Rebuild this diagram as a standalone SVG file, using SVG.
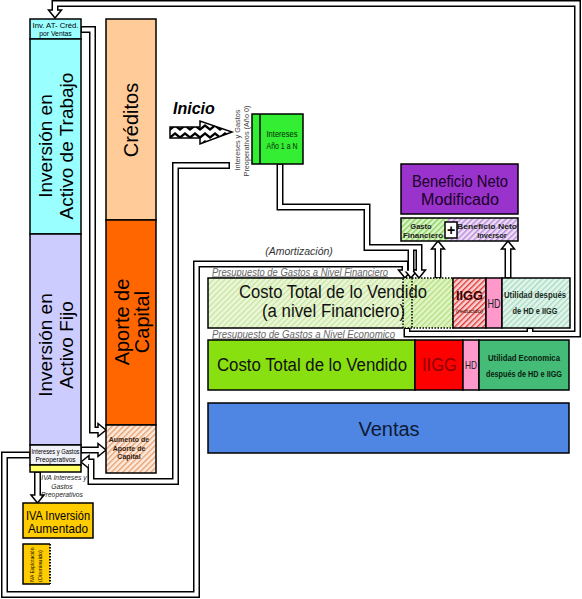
<svg xmlns="http://www.w3.org/2000/svg" xmlns:xlink="http://www.w3.org/1999/xlink" width="582" height="599" viewBox="0 0 582 599">
<style>
text{font-family:"Liberation Sans",Arial,sans-serif;fill:#000}
.b{font-weight:bold}
.i{font-style:italic}
.m{text-anchor:middle}
.bx{stroke:#000;stroke-width:1.5}
.cb path{fill:none;stroke:#000;stroke-width:7;stroke-linejoin:miter}
.cw path{fill:none;stroke:#fff;stroke-width:4;stroke-linejoin:miter}
.ah{fill:#fff;stroke:#000;stroke-width:1.5;stroke-linejoin:miter}
.dot{fill:none;stroke:#000;stroke-width:1.5;stroke-dasharray:1.5 1.5}
.pre{font-style:italic;fill:#666;text-decoration:underline;font-size:10.5px}
</style>
<defs>
<pattern id="hG" width="4" height="4" patternUnits="userSpaceOnUse" patternTransform="rotate(45)"><rect width="4" height="4" fill="#ECF7D8"/><rect width="1.3" height="4" fill="#C4E5A0"/></pattern>
<pattern id="hG2" width="4" height="4" patternUnits="userSpaceOnUse" patternTransform="rotate(45)"><rect width="4" height="4" fill="#E2F5C4"/><rect width="1.4" height="4" fill="#B4DE84"/></pattern>
<pattern id="hGF" width="4" height="4" patternUnits="userSpaceOnUse" patternTransform="rotate(45)"><rect width="4" height="4" fill="#DDF6C8"/><rect width="1.4" height="4" fill="#86D05E"/></pattern>
<pattern id="hR" width="4" height="4" patternUnits="userSpaceOnUse" patternTransform="rotate(45)"><rect width="4" height="4" fill="#F8D2D2"/><rect width="1.4" height="4" fill="#E03A3A"/></pattern>
<pattern id="hT" width="4" height="4" patternUnits="userSpaceOnUse" patternTransform="rotate(45)"><rect width="4" height="4" fill="#E2F5EC"/><rect width="1.3" height="4" fill="#A6DAC0"/></pattern>
<pattern id="hP" width="4" height="4" patternUnits="userSpaceOnUse" patternTransform="rotate(45)"><rect width="4" height="4" fill="#EEDDF6"/><rect width="1.4" height="4" fill="#B58AD8"/></pattern>
<pattern id="hO" width="4" height="4" patternUnits="userSpaceOnUse" patternTransform="rotate(45)"><rect width="4" height="4" fill="#FCEBDD"/><rect width="1.4" height="4" fill="#E8A070"/></pattern>
<pattern id="zig" width="10" height="8" patternUnits="userSpaceOnUse" x="170" y="124"><rect width="10" height="8" fill="#fff"/><path d="M0,4 L5,0 L10,4 L10,7 L5,3 L0,7 Z" fill="#000"/></pattern>
<path id="ah" d="M-6.5,0 L6.5,0 L0,8 Z"/>
</defs>

<g id="connectors">
 <g class="cb">
  <path d="M407,328 V334 H577.5 V3.5 H55 V10"/>
  <path d="M530,328 V334"/>
  <path d="M81,29.5 H92.5 V430 H98"/>
  <path d="M81,450 H98"/>
  <path d="M230,165.5 H175.5 V481.5 H91 V462 H89"/>
  <path d="M30,455 H4.5 V594.5 H196.5 V264 H405 V270"/>
  <path d="M280,164 V207 H367 V247.5 H419 V270"/>
  <path d="M411,247.5 V270"/>
  <path d="M438,278 V249"/>
  <path d="M508,278 V249"/>
  <path d="M37.5,472 V495"/>
 </g>
 <g id="heads">
  <use href="#ah" class="ah" transform="translate(55,10)"/>
  <use href="#ah" class="ah" transform="translate(98,430) rotate(-90)"/>
  <use href="#ah" class="ah" transform="translate(98,450) rotate(-90)"/>
  <use href="#ah" class="ah" transform="translate(89,462) rotate(90)"/>
  <use href="#ah" class="ah" transform="translate(405,270)"/>
  <use href="#ah" class="ah" transform="translate(411,270)"/>
  <use href="#ah" class="ah" transform="translate(419,270)"/>
  <use href="#ah" class="ah" transform="translate(438,249) rotate(180)"/>
  <use href="#ah" class="ah" transform="translate(508,249) rotate(180)"/>
  <use href="#ah" class="ah" transform="translate(37.5,495)"/>
 </g>
 <g class="cw">
  <path d="M407,329 V334 H577.5 V3.5 H55 V11.5"/>
  <path d="M530,329 V334"/>
  <path d="M81.8,29.5 H92.5 V430 H99.5"/>
  <path d="M81.8,450 H99.5"/>
  <path d="M228.5,165.5 H175.5 V481.5 H91 V462 H87.5"/>
  <path d="M29.2,455 H4.5 V594.5 H196.5 V264 H405 V271.5"/>
  <path d="M280,164.8 V207 H367 V247.5 H419 V271.5"/>
  <path d="M411,247.5 V271.5"/>
  <path d="M438,277.2 V247.5"/>
  <path d="M508,277.2 V247.5"/>
  <path d="M37.5,472.8 V496.5"/>
 </g>
 <text class="i m" x="299" y="255" font-size="10.5" style="fill:#333">(Amortización)</text>
 <text class="i m" x="64" y="480" font-size="6.8" style="fill:#222">IVA Intereses y</text>
 <text class="i m" x="62" y="488.5" font-size="6.8" style="fill:#222">Gastos</text>
 <text class="i m" x="62" y="497" font-size="6.8" style="fill:#222">Preoperativos</text>
</g>

<g id="inv-at-cred">
 <rect class="bx" x="30" y="19" width="51" height="20" fill="#99FFFF"/>
 <text class="m" x="55.5" y="27.5" font-size="6.8" textLength="46" lengthAdjust="spacingAndGlyphs">Inv. AT- Créd.</text>
 <text class="m" x="55.5" y="35.5" font-size="6.8">por Ventas</text>
</g>
<g id="activo-trabajo">
 <rect class="bx" x="30" y="39" width="51" height="195" fill="#99FFFF"/>
 <text class="m" transform="translate(52,146) rotate(-90)" font-size="19">Inversión en</text>
 <text class="m" transform="translate(72.5,146) rotate(-90)" font-size="19">Activo de Trabajo</text>
</g>
<g id="activo-fijo">
 <rect class="bx" x="30" y="234" width="51" height="211" fill="#CCCCFF"/>
 <text class="m" transform="translate(52,345) rotate(-90)" font-size="19">Inversión en</text>
 <text class="m" transform="translate(72.5,345) rotate(-90)" font-size="19">Activo Fijo</text>
</g>
<g id="preoperativos">
 <rect class="bx" x="30" y="445" width="51" height="20" fill="#F1F1F8"/>
 <rect class="bx" x="30" y="465" width="51" height="7" fill="#FFFF66"/>
 <text class="m" x="55.5" y="453.5" font-size="6.5" textLength="48" lengthAdjust="spacingAndGlyphs">Intereses y Gastos</text>
 <text class="m" x="55.5" y="462" font-size="6.5">Preoperativos</text>
</g>
<g id="creditos">
 <rect class="bx" x="106" y="19" width="50" height="201" fill="#FFCC99"/>
 <text class="m" transform="translate(138,120) rotate(-90)" font-size="20">Créditos</text>
</g>
<g id="aporte-capital">
 <rect class="bx" x="106" y="220" width="50" height="205" fill="#FF6600"/>
 <text class="m" transform="translate(129,322) rotate(-90)" font-size="20">Aporte de</text>
 <text class="m" transform="translate(149,322) rotate(-90)" font-size="20">Capital</text>
</g>
<g id="aumento-aporte">
 <rect class="bx" x="106" y="425" width="50" height="48" fill="url(#hO)"/>
 <text class="b m" x="129" y="442" font-size="7" style="fill:#332211">Aumento de</text>
 <text class="b m" x="129" y="450.5" font-size="7" style="fill:#332211">Aporte de</text>
 <text class="b m" x="129" y="459" font-size="7" style="fill:#332211">Capital</text>
</g>
<g id="iva-inversion">
 <rect class="bx" x="23" y="503" width="70" height="35" fill="#FFCC00"/>
 <text class="m" x="58" y="519.5" font-size="13" textLength="64" lengthAdjust="spacingAndGlyphs">IVA Inversión</text>
 <text class="m" x="58" y="533" font-size="13" textLength="60" lengthAdjust="spacingAndGlyphs">Aumentado</text>
</g>
<g id="iva-explotacion">
 <rect x="23" y="544" width="27" height="40" fill="#FFCC00"/>
 <path d="M50,544 H23 V584 H50" fill="none" stroke="#000" stroke-width="1.5"/>
 <path class="dot" d="M50,544 V584" style="stroke-width:2"/>
 <text class="m" transform="translate(33.5,565) rotate(-90)" font-size="6" textLength="35" lengthAdjust="spacingAndGlyphs">IVA Explotación</text>
 <text class="m" transform="translate(41.5,566) rotate(-90)" font-size="6" textLength="32" lengthAdjust="spacingAndGlyphs">(Disminuido)</text>
</g>
<g id="inicio">
 <text class="b i" x="173" y="114" font-size="16">Inicio</text>
 <path d="M170,127 H200 V121 L232,132 L200,144 V138 H170 Z" fill="url(#zig)" stroke="#000" stroke-width="1.5"/>
 <text class="m" transform="translate(240,140) rotate(-90)" font-size="7.3" style="fill:#444">Intereses y Gastos</text>
 <text class="m" transform="translate(249,141) rotate(-90)" font-size="7.3" style="fill:#444">Preoperativos (Año 0)</text>
</g>
<g id="intereses-anio">
 <rect class="bx" x="252" y="114" width="51" height="50" fill="#33EE33"/>
 <path d="M260,114 V164" stroke="#000" stroke-width="1.5"/>
 <text class="m" x="282" y="137" font-size="9" textLength="31" lengthAdjust="spacingAndGlyphs" style="fill:#0a2a0a">Intereses</text>
 <text class="m" x="282" y="148.5" font-size="9" textLength="31" lengthAdjust="spacingAndGlyphs" style="fill:#0a2a0a">Año 1 a N</text>
</g>
<g id="beneficio-neto-modificado">
 <rect class="bx" x="401" y="164" width="117" height="50" fill="#9933CC"/>
 <text class="m" x="460" y="187" font-size="16" textLength="96" lengthAdjust="spacingAndGlyphs" style="fill:#1a0026">Beneficio Neto</text>
 <text class="m" x="460" y="205" font-size="16" textLength="78" lengthAdjust="spacingAndGlyphs" style="fill:#1a0026">Modificado</text>
</g>
<g id="gasto-beneficio">
 <rect x="401" y="218" width="47" height="23" fill="url(#hGF)"/>
 <rect x="448" y="218" width="70" height="23" fill="url(#hP)"/>
 <rect class="bx" x="401" y="218" width="117" height="23" fill="none"/>
 <text class="b m" x="421" y="229" font-size="7.5" style="fill:#222">Gasto</text>
 <text class="b m" x="423" y="237.5" font-size="7.5" textLength="40" lengthAdjust="spacingAndGlyphs" style="fill:#222">Financiero</text>
 <text class="b m" x="487" y="229" font-size="7.5" textLength="60" lengthAdjust="spacingAndGlyphs" style="fill:#222">Beneficio Neto</text>
 <text class="b m" x="492" y="237.5" font-size="7.5" style="fill:#222">Inversor</text>
 <rect class="bx" x="445" y="222" width="12" height="16" fill="#fff"/>
 <text class="b m" x="451" y="235" font-size="14">+</text>
</g>
<g id="costo-financiero">
 <text class="pre" x="212" y="275.5" textLength="176" lengthAdjust="spacingAndGlyphs">Presupuesto de Gastos a Nivel Financiero</text>
 <rect x="208" y="278" width="245" height="50" fill="url(#hG)"/>
 <rect x="403" y="278" width="50" height="50" fill="url(#hG2)"/>
 <path d="M403,278 H208 V328 H403" fill="none" stroke="#000" stroke-width="1.5"/>
 <rect class="dot" x="403" y="278" width="50" height="50"/>
 <path class="dot" d="M412,278 V328"/>
 <text class="m" x="333" y="298" font-size="18" textLength="188" lengthAdjust="spacingAndGlyphs" style="fill:#111">Costo Total de lo Vendido</text>
 <text class="m" x="333.5" y="317" font-size="18" textLength="143" lengthAdjust="spacingAndGlyphs" style="fill:#111">(a nivel Financiero)</text>
</g>
<g id="iigg-reducido">
 <rect class="bx" x="453" y="278" width="33" height="50" fill="url(#hR)"/>
 <text class="b m" x="469.5" y="300" font-size="12" textLength="27" lengthAdjust="spacingAndGlyphs" style="fill:#3a0000">IIGG</text>
 <text class="m" x="469.5" y="313" font-size="6" textLength="27" lengthAdjust="spacingAndGlyphs" style="fill:#3a0000">(reducido)</text>
</g>
<g id="hd-financiero">
 <rect class="bx" x="486" y="278" width="16" height="50" fill="#FF99CC"/>
 <text class="m" x="494" y="308" font-size="12" textLength="13" lengthAdjust="spacingAndGlyphs" style="fill:#222">HD</text>
</g>
<g id="utilidad-financiera">
 <rect class="bx" x="502" y="278" width="68" height="50" fill="url(#hT)"/>
 <text class="b m" x="535" y="298" font-size="9.5" textLength="62" lengthAdjust="spacingAndGlyphs" style="fill:#1a2a22">Utilidad después</text>
 <text class="b m" x="535" y="314" font-size="9.5" textLength="45" lengthAdjust="spacingAndGlyphs" style="fill:#1a2a22">de HD e IIGG</text>
</g>
<g id="costo-economico">
 <text class="pre" x="212" y="337.5" textLength="183" lengthAdjust="spacingAndGlyphs">Presupuesto de Gastos a Nivel Economico</text>
 <rect class="bx" x="208" y="340" width="207" height="50" fill="#88E010"/>
 <text class="m" x="312" y="371" font-size="18" textLength="190" lengthAdjust="spacingAndGlyphs" style="fill:#111">Costo Total de lo Vendido</text>
</g>
<g id="iigg-economico">
 <rect class="bx" x="415" y="340" width="48" height="50" fill="#FF0000"/>
 <text class="m" x="439.5" y="371" font-size="18" textLength="35" lengthAdjust="spacingAndGlyphs" style="fill:#8A0000">IIGG</text>
</g>
<g id="hd-economico">
 <rect class="bx" x="463" y="340" width="16" height="50" fill="#FF99CC"/>
 <text class="m" x="471" y="369" font-size="11" textLength="12" lengthAdjust="spacingAndGlyphs" style="fill:#222">HD</text>
</g>
<g id="utilidad-economica">
 <rect class="bx" x="479" y="340" width="90" height="50" fill="#44BB77"/>
 <text class="b m" x="524" y="361" font-size="9.5" textLength="72" lengthAdjust="spacingAndGlyphs" style="fill:#0a2210">Utilidad Economica</text>
 <text class="b m" x="524" y="377" font-size="9" textLength="76" lengthAdjust="spacingAndGlyphs" style="fill:#0a2210">después de HD e IIGG</text>
</g>
<g id="ventas">
 <rect class="bx" x="208" y="403" width="361" height="50" fill="#4F86E3"/>
 <text class="m" x="389" y="436" font-size="20" style="fill:#0d1a33">Ventas</text>
</g>
</svg>
